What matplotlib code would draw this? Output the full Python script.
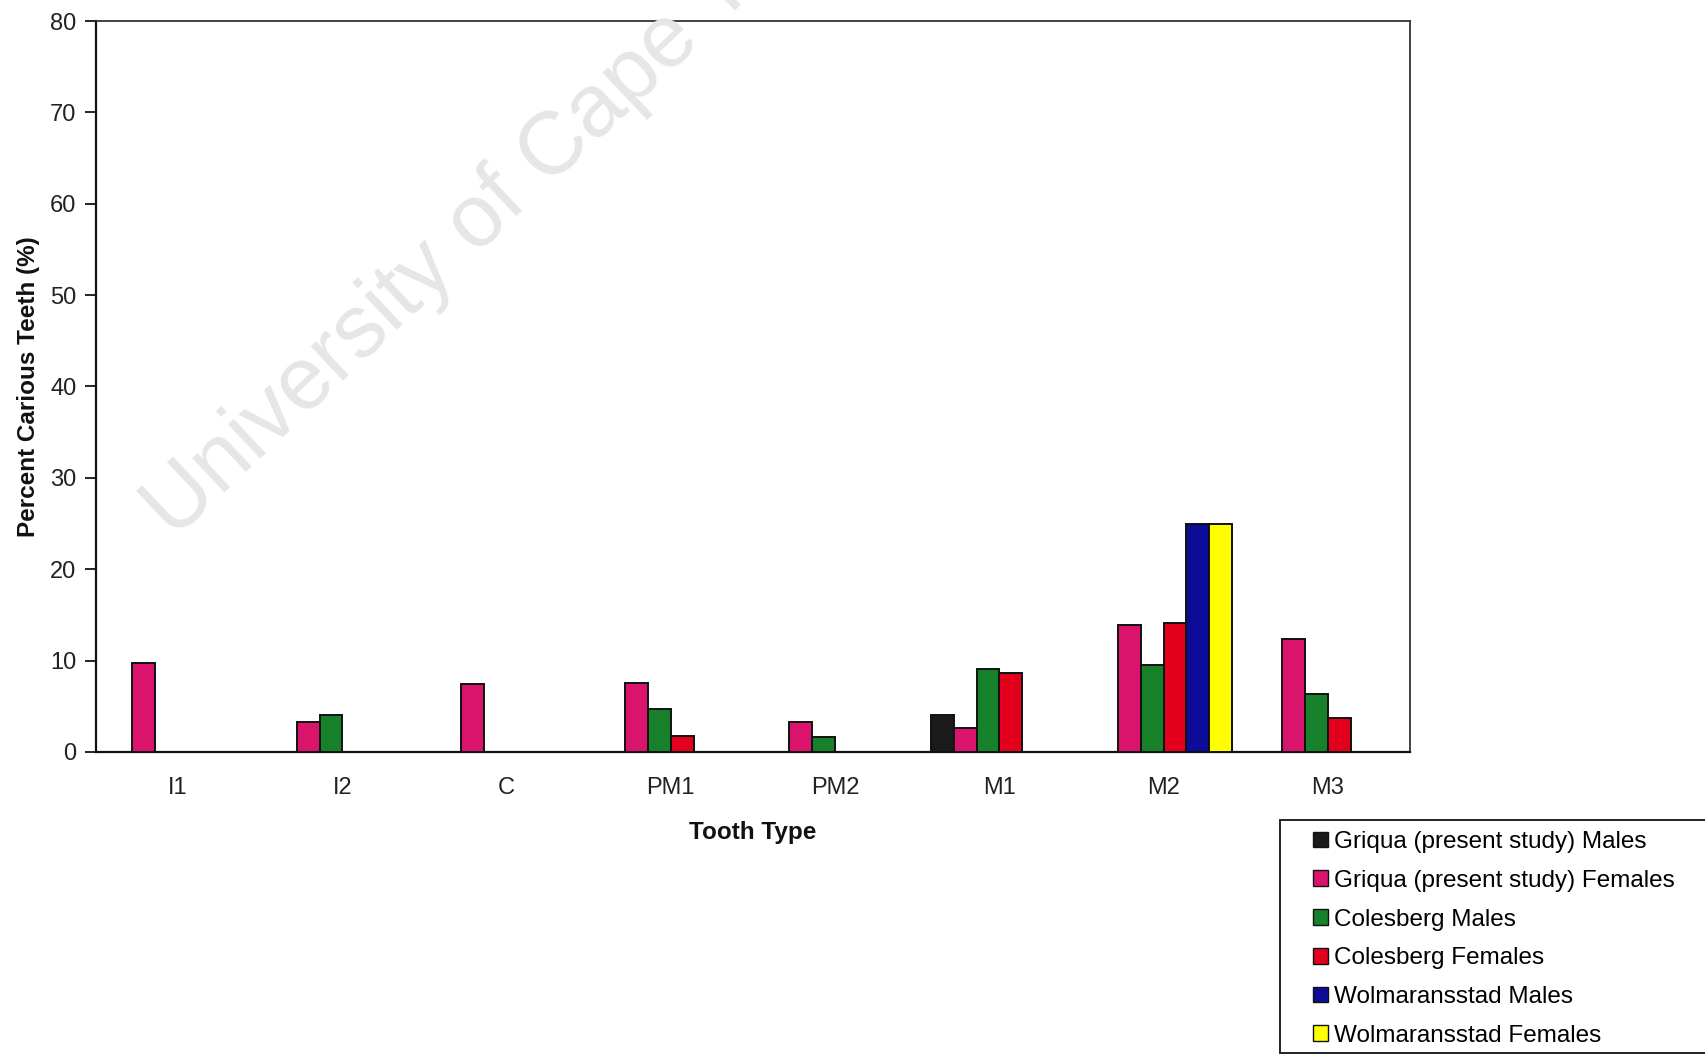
import numpy as np
import matplotlib
matplotlib.use("Agg")
import matplotlib.pyplot as plt
from matplotlib.patches import Patch, Rectangle

plt.rcParams['font.family'] = ['Liberation Sans', 'DejaVu Sans']

tooth_types = ["I1", "I2", "C", "PM1", "PM2", "M1", "M2", "M3"]
series_names = [
    "Griqua (present study) Males",
    "Griqua (present study) Females",
    "Colesberg Males",
    "Colesberg Females",
    "Wolmaransstad Males",
    "Wolmaransstad Females",
]
griqua_males = [0, 0, 0, 0, 0, 4.1, 0, 0]
griqua_females = [9.7, 3.3, 7.4, 7.6, 3.3, 2.6, 13.9, 12.4]
colesberg_males = [0, 4.1, 0, 4.7, 1.6, 9.1, 9.5, 6.4]
colesberg_females = [0, 0, 0, 1.7, 0, 8.6, 14.1, 3.7]
wolmaransstad_males = [0, 0, 0, 0, 0, 0, 25, 0]
wolmaransstad_females = [0, 0, 0, 0, 0, 0, 25, 0]
series_values = [griqua_males, griqua_females, colesberg_males,
                 colesberg_females, wolmaransstad_males, wolmaransstad_females]
colors = ["#1a1a1a", "#da136c", "#17802a", "#e3001c", "#0c0c98", "#ffff00"]

W, H = 1706, 1056
fig = plt.figure(figsize=(W / 100, H / 100), dpi=100)
ax = fig.add_axes([96 / W, 1 - 752 / H, (1410 - 96) / W, (752 - 21) / H])

# watermark behind the plot
fig.text(174 / W, 1 - 540 / H, "University of Cape Town", fontsize=64,
         color="#e6e6e6", rotation=43.3, rotation_mode="anchor",
         ha="left", va="baseline", zorder=0)
ax.patch.set_alpha(0)

x = np.arange(len(tooth_types)) + 0.5
w = 0.139
for i, (vals, c) in enumerate(zip(series_values, colors)):
    ax.bar(x + (i - 2.5) * w, vals, width=w, color=c, edgecolor="#111111",
           linewidth=1.4, label=series_names[i], zorder=3)

ax.set_xlim(0, len(tooth_types))
ax.set_ylim(0, 80)
ax.set_yticks(range(0, 81, 10))
ax.set_xticks(x)
ax.set_xticklabels(tooth_types)
ax.tick_params(axis='x', length=0, pad=18, labelsize=17, labelcolor="#222222")
ax.tick_params(axis='y', length=8, width=1.2, direction='out', pad=6,
               labelsize=17, labelcolor="#222222")
for s in ["left", "bottom"]:
    ax.spines[s].set_color("#111111")
    ax.spines[s].set_linewidth(1.6)
for s in ["top", "right"]:
    ax.spines[s].set_color("#333333")
    ax.spines[s].set_linewidth(1.3)

ax.set_xlabel("Tooth Type", fontsize=17.5, fontweight="bold", labelpad=16, color="#111111")
ax.set_ylabel("Percent Carious Teeth (%)", fontsize=17.5, fontweight="bold",
              labelpad=7, color="#111111")

# legend frame
fig.patches.append(Rectangle((1280 / W, 1 - 1053 / H), (W + 10 - 1280) / W,
                             (1053 - 820) / H, transform=fig.transFigure,
                             facecolor="white", edgecolor="#222222",
                             linewidth=1.4, zorder=1))
handles = [Patch(facecolor=c, edgecolor="#111111", linewidth=1.0) for c in colors]
leg = fig.legend(handles, series_names, loc="upper left",
                 bbox_to_anchor=(1313 / W, 1 - 831 / H),
                 fontsize=17.5, frameon=False,
                 handlelength=0.62, handleheight=0.62,
                 handletextpad=0.25, labelspacing=0.69, borderpad=0,
                 borderaxespad=0)
leg.set_zorder(2)

fig.savefig("out.png", dpi=100)
